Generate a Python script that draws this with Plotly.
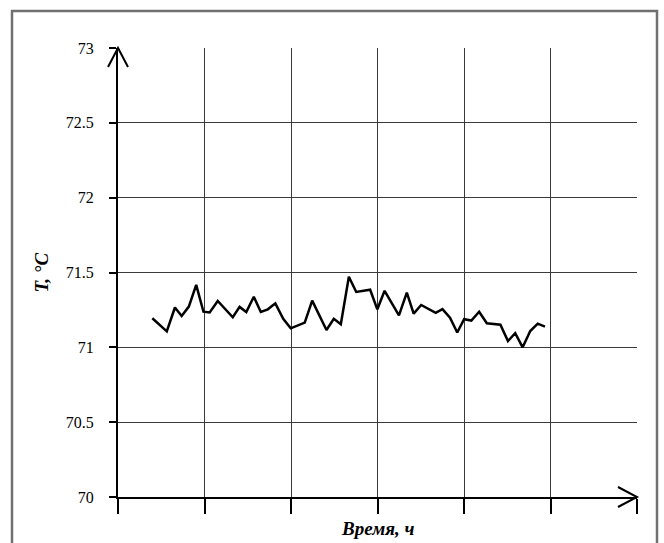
import plotly.graph_objects as go

# Time, h
time_h = [0.397, 0.564, 0.658, 0.736, 0.819, 0.904, 0.988, 1.060, 1.153, 1.327,
          1.406, 1.483, 1.570, 1.651, 1.732, 1.819, 1.910, 1.997, 2.159, 2.245,
          2.410, 2.495, 2.576, 2.669, 2.754, 2.915, 2.998, 3.082, 3.248, 3.339,
          3.418, 3.505, 3.673, 3.751, 3.838, 3.922, 4.001, 4.085, 4.175, 4.264,
          4.421, 4.508, 4.592, 4.678, 4.766, 4.852, 4.936]
# Temperature, °C
temp_c = [71.194, 71.107, 71.266, 71.209, 71.272, 71.417, 71.238, 71.233, 71.310, 71.201,
          71.270, 71.236, 71.338, 71.236, 71.254, 71.294, 71.191, 71.127, 71.165, 71.312,
          71.116, 71.191, 71.154, 71.472, 71.370, 71.385, 71.254, 71.378, 71.213, 71.366,
          71.225, 71.283, 71.231, 71.255, 71.198, 71.099, 71.188, 71.179, 71.238, 71.161,
          71.151, 71.042, 71.094, 71.000, 71.109, 71.158, 71.138]

y_ticks = [70, 70.5, 71, 71.5, 72, 72.5, 73]
y_labels = ["70", "70.5", "71", "71.5", "72", "72.5", "73"]
x_ticks = [0, 1, 2, 3, 4, 5, 6]

W, H = 664, 543
L, R, T, B = 118, 27, 48, 46
pw, ph = W - L - R, H - T - B
X0, X1 = 0, 6
Y0, Y1 = 70, 73
# one pixel in paper units
ux, uy = 1 / pw, 1 / ph

FONT = "Liberation Serif"

fig = go.Figure()
fig.add_trace(go.Scatter(x=time_h, y=temp_c, mode="lines",
                         line=dict(color="black", width=2.5), showlegend=False))

shapes = []
# axis arrows (open V heads), drawn in paper space so they are not clipped
ax_len, ax_half = 19, 10
shapes.append(dict(type="path", xref="paper", yref="paper",
                   path=f"M {-ax_half * ux} {1 - ax_len * uy} L 0 1 L {ax_half * ux} {1 - ax_len * uy}",
                   line=dict(color="black", width=2)))
shapes.append(dict(type="path", xref="paper", yref="paper",
                   path=f"M {1 - ax_len * ux} {ax_half * uy} L 1 0 L {1 - ax_len * ux} {-ax_half * uy}",
                   line=dict(color="black", width=2)))
# outer frame
shapes.append(dict(type="rect", xref="paper", yref="paper",
                   x0=(12 - L) * ux, x1=(657 - L) * ux,
                   y0=-0.3, y1=(H - B - 11) * uy,
                   line=dict(color="#707070", width=2.5), layer="below"))

annotations = [
    dict(text="<b><i>Время, ч</i></b>", xref="paper", yref="paper",
         x=0.5, y=(H - B - 528) * uy, xanchor="center", yanchor="middle",
         showarrow=False, font=dict(family=FONT, size=19, color="black")),
    dict(text="<b><i>T, °C</i></b>", xref="paper", yref="paper",
         x=(41 - L) * ux, y=0.5, xanchor="center", yanchor="middle", textangle=-90,
         showarrow=False, font=dict(family=FONT, size=19, color="black")),
]

fig.update_layout(
    width=W, height=H,
    margin=dict(l=L, r=R, t=T, b=B, autoexpand=False),
    paper_bgcolor="white", plot_bgcolor="white",
    shapes=shapes, annotations=annotations,
    font=dict(family=FONT, size=16, color="black"),
)
fig.update_xaxes(range=[X0, X1], tickvals=x_ticks, showticklabels=False,
                 showgrid=True, gridcolor="#3a3a3a", gridwidth=1,
                 showline=True, linecolor="black", linewidth=2,
                 ticks="outside", ticklen=15, tickwidth=2, tickcolor="black",
                 zeroline=False, fixedrange=True)
fig.update_yaxes(range=[Y0, Y1], tickvals=y_ticks, ticktext=y_labels,
                 showgrid=True, gridcolor="#3a3a3a", gridwidth=1,
                 showline=True, linecolor="black", linewidth=2,
                 ticks="outside", ticklen=7, tickwidth=2, tickcolor="black",
                 ticklabelstandoff=12,
                 zeroline=False, fixedrange=True)

fig.write_html("out.html")
